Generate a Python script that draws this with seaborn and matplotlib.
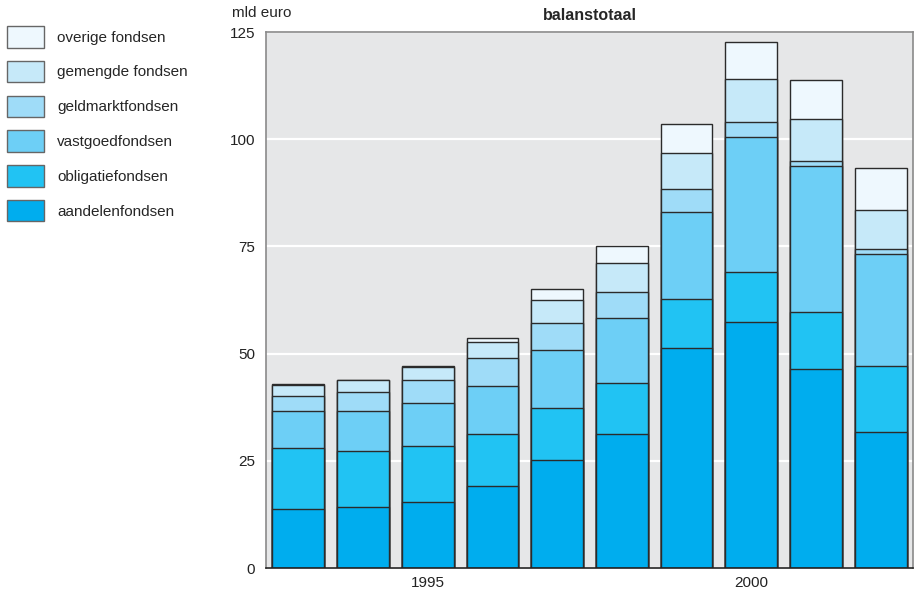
import pandas as pd
import seaborn as sns
import matplotlib.pyplot as plt
from matplotlib.patches import Patch

years = [1993, 1994, 1995, 1996, 1997, 1998, 1999, 2000, 2001, 2002]
tick_labels = ['', '', '1995', '', '', '', '', '2000', '', '']

# mld euro per fondstype (van onder naar boven)
aandelen = [13.7, 14.3, 15.4, 19.1, 25.3, 31.2, 51.3, 57.3, 46.5, 31.7]
obligatie = [14.2, 13.1, 13.0, 12.1, 12.0, 12.0, 11.5, 11.7, 13.2, 15.3]
vastgoed = [8.7, 9.2, 10.0, 11.3, 13.6, 15.2, 20.3, 31.4, 34.0, 26.3]
geldmarkt = [3.4, 4.4, 5.5, 6.4, 6.2, 6.0, 5.3, 3.5, 1.3, 1.1]
gemengde = [2.6, 2.8, 2.9, 3.7, 5.4, 6.7, 8.4, 10.2, 9.7, 9.0]
overige = [0.2, 0.1, 0.4, 1.1, 2.6, 4.1, 6.8, 8.6, 9.2, 10.0]

series = ['aandelenfondsen', 'obligatiefondsen', 'vastgoedfondsen',
          'geldmarktfondsen', 'gemengde fondsen', 'overige fondsen']
colors = ['#00adee', '#21c3f3', '#6dcff6', '#9fdcf8', '#c6e9f9', '#eef8fe']

df = pd.DataFrame({'jaar': [str(y) for y in years],
                   series[0]: aandelen, series[1]: obligatie,
                   series[2]: vastgoed, series[3]: geldmarkt,
                   series[4]: gemengde, series[5]: overige})
cum = df[series].cumsum(axis=1)

sns.set_style('white')
plt.rcParams['font.family'] = ['Liberation Sans', 'DejaVu Sans']
plt.rcParams['font.size'] = 11

fig = plt.figure(figsize=(9.2, 5.96), dpi=100)
ax = fig.add_axes([266 / 920, 1 - 568 / 596, 647 / 920, 536 / 596])
ax.set_facecolor('#e6e7e8')

# draw cumulative totals from the top layer down so each segment shows
for name, col in zip(series[::-1], colors[::-1]):
    sns.barplot(x=df['jaar'], y=cum[name], color=col, width=0.8,
                edgecolor='#2b2b2b', linewidth=1, saturation=1, ax=ax)

ax.set_ylim(0, 125)
ax.set_yticks([0, 25, 50, 75, 100, 125])
ax.yaxis.grid(True, color='white', linewidth=1.6)
ax.set_axisbelow(True)
ax.set_xticks(range(len(years)))
ax.set_xticklabels(tick_labels)
ax.set_xlabel('')
ax.set_ylabel('')
ax.tick_params(axis='both', length=0, labelsize=11, colors='#222222')
ax.tick_params(axis='y', pad=8)
ax.tick_params(axis='x', pad=6)
for side in ['left', 'top', 'right']:
    ax.spines[side].set_color('#8a8a8a')
    ax.spines[side].set_linewidth(1.2)
ax.spines['bottom'].set_color('#222222')
ax.spines['bottom'].set_linewidth(1.2)

ax.set_title('balanstotaal', fontsize=11.5, fontweight='bold', pad=9)
fig.text(232 / 920, 1 - 13 / 596, 'mld euro', ha='left', va='center', fontsize=11)

handles = [Patch(facecolor=c, edgecolor='#666666', linewidth=1) for c in colors[::-1]]
fig.legend(handles, series[::-1], loc='upper left',
           bbox_to_anchor=(7 / 920, 1 - 26 / 596), frameon=False,
           borderpad=0, borderaxespad=0, handlelength=2.4, handleheight=1.8,
           labelspacing=0.86, handletextpad=0.9, fontsize=11)

fig.savefig('out.png', dpi=100)
